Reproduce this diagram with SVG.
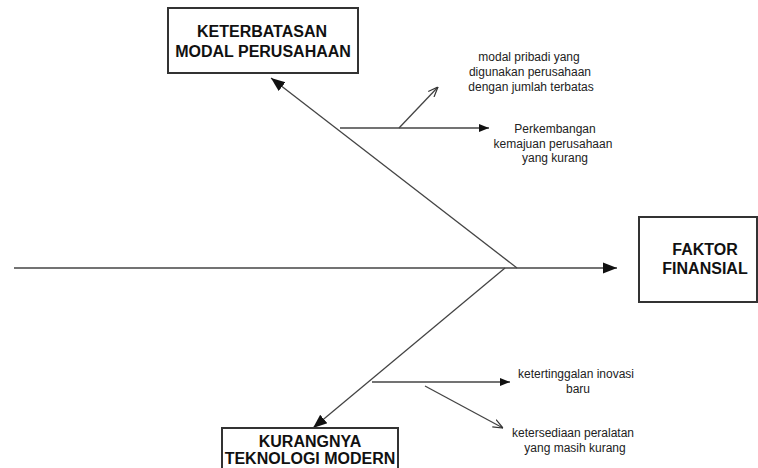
<svg xmlns="http://www.w3.org/2000/svg" width="758" height="468" viewBox="0 0 758 468">
<style>
.box{fill:#fff;stroke:#333;stroke-width:2}
.t{font-family:"Liberation Sans",Arial,sans-serif;font-weight:bold;font-size:16px;fill:#111;text-anchor:middle}
.s{font-family:"Liberation Sans",Arial,sans-serif;font-size:12px;fill:#222;text-anchor:middle}
.ln{stroke:#444;stroke-width:1.3;fill:none}
</style>
<defs>
<marker id="ah" viewBox="0 0 10 10" refX="10" refY="5" markerWidth="10" markerHeight="10" markerUnits="userSpaceOnUse" orient="auto"><path d="M0,1 L10,5 L0,9 z" fill="#111"/></marker>
<marker id="ab" viewBox="0 0 10 10" refX="10" refY="5" markerWidth="14" markerHeight="14" markerUnits="userSpaceOnUse" orient="auto"><path d="M0,1 L10,5 L0,9 z" fill="#111"/></marker>
<marker id="ao" viewBox="0 0 10 10" refX="10" refY="5" markerWidth="10" markerHeight="10" markerUnits="userSpaceOnUse" orient="auto"><path d="M0,1 L10,5 L0,9" fill="none" stroke="#333" stroke-width="1.2"/></marker>
</defs>
<g id="connectors">
<line class="ln" x1="14" y1="268" x2="617" y2="268" marker-end="url(#ab)"/>
<line class="ln" x1="517" y1="268" x2="271" y2="78" marker-end="url(#ab)"/>
<line class="ln" x1="505" y1="268" x2="313" y2="428" marker-end="url(#ab)"/>
<line class="ln" x1="340" y1="128" x2="489" y2="128" marker-end="url(#ah)"/>
<line class="ln" x1="399" y1="128" x2="438" y2="87" marker-end="url(#ao)"/>
<line class="ln" x1="372" y1="382" x2="510" y2="382" marker-end="url(#ah)"/>
<line class="ln" x1="425" y1="386" x2="503" y2="428" marker-end="url(#ao)"/>
</g>
<g id="node-modal">
<rect class="box" x="168" y="8" width="190" height="65"/>
<text class="t" x="262" y="37">KETERBATASAN</text>
<text class="t" x="263" y="57">MODAL PERUSAHAAN</text>
</g>
<g id="node-faktor">
<rect class="box" x="639" y="217" width="118" height="85"/>
<text class="t" x="705" y="255">FAKTOR</text>
<text class="t" x="705" y="274">FINANSIAL</text>
</g>
<g id="node-teknologi">
<rect class="box" x="222" y="428" width="176" height="50"/>
<text class="t" x="310" y="447">KURANGNYA</text>
<text class="t" x="310" y="464">TEKNOLOGI MODERN</text>
</g>
<g id="label-modal-pribadi">
<text class="s" x="529" y="61">modal pribadi yang</text>
<text class="s" x="530" y="76">digunakan perusahaan</text>
<text class="s" x="531" y="91">dengan jumlah terbatas</text>
</g>
<g id="label-perkembangan">
<text class="s" x="555" y="133">Perkembangan</text>
<text class="s" x="553" y="148">kemajuan perusahaan</text>
<text class="s" x="555" y="162">yang kurang</text>
</g>
<g id="label-inovasi">
<text class="s" x="576" y="378">ketertinggalan inovasi</text>
<text class="s" x="578" y="393">baru</text>
</g>
<g id="label-peralatan">
<text class="s" x="573" y="437">ketersediaan peralatan</text>
<text class="s" x="575" y="452">yang masih kurang</text>
</g>
</svg>
